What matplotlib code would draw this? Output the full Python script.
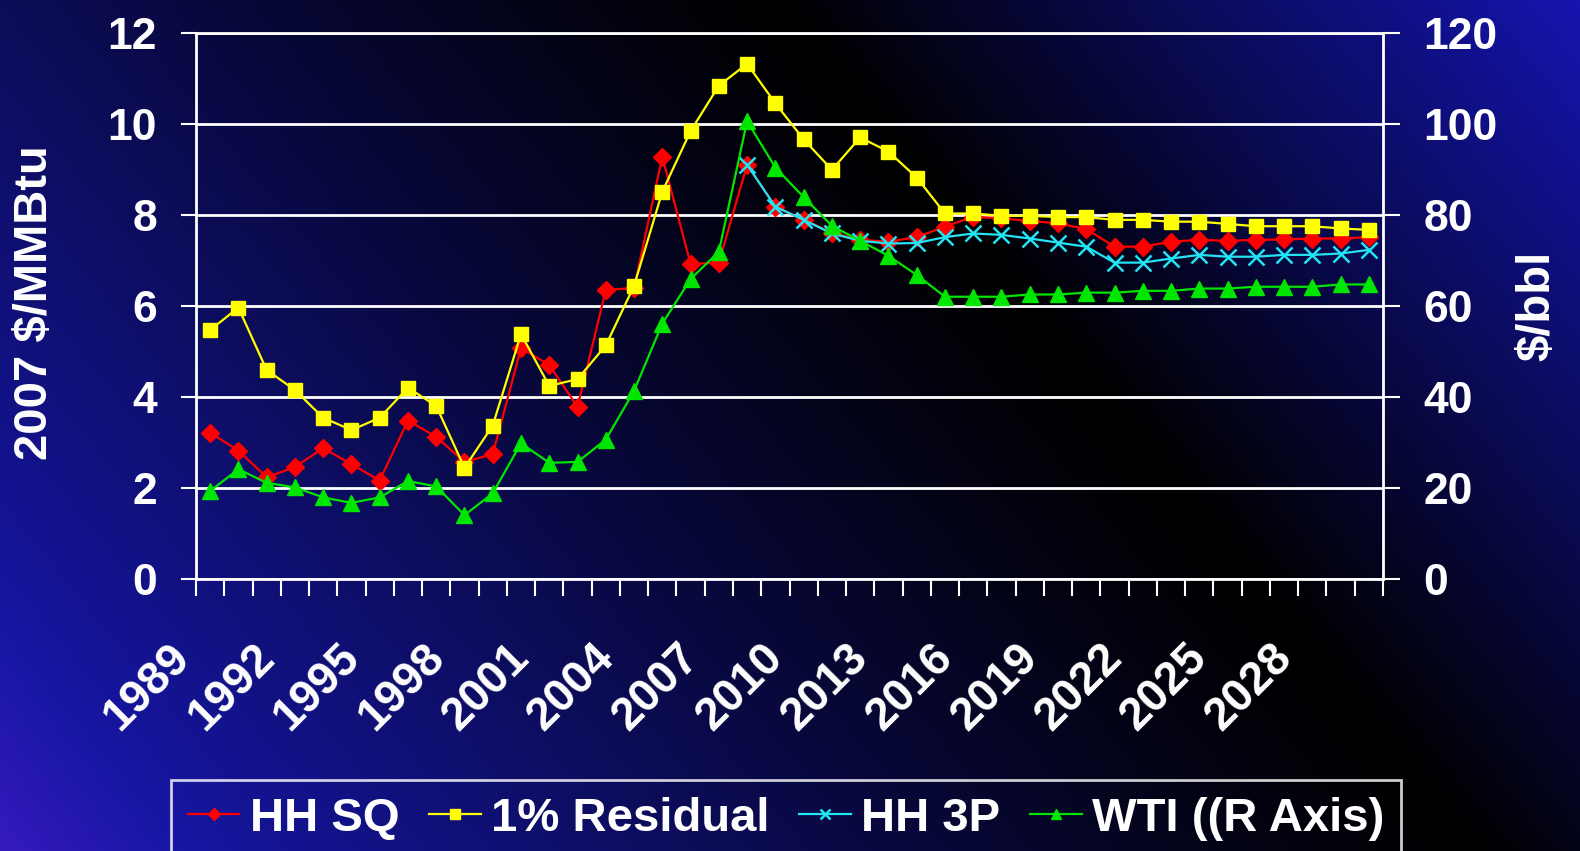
import matplotlib.pyplot as plt
import numpy as np
from matplotlib.transforms import ScaledTranslation

years = list(range(1989, 2031))

# gas prices, 2007 $/MMBtu
hh_sq = [3.22, 2.83, 2.24, 2.47, 2.88, 2.53, 2.17, 3.49, 3.13, 2.58,
         2.75, 5.08, 4.71, 3.79, 6.36, 6.40, 9.29, 6.93, 6.96, 9.11,
         8.19, 7.90, 7.62, 7.46, 7.42, 7.52, 7.75, 7.97, 7.93, 7.88,
         7.82, 7.70, 7.31, 7.31, 7.42, 7.46, 7.44, 7.46, 7.47, 7.49,
         7.49, 7.52]
residual = [5.48, 5.97, 4.60, 4.16, 3.55, 3.28, 3.55, 4.21, 3.81, 2.45,
            3.38, 5.39, 4.25, 4.40, 5.14, 6.45, 8.52, 9.85, 10.85, 11.33,
            10.46, 9.67, 9.00, 9.71, 9.40, 8.83, 8.04, 8.04, 7.99, 7.99,
            7.96, 7.96, 7.90, 7.90, 7.86, 7.86, 7.81, 7.76, 7.76, 7.76,
            7.71, 7.68]
# 3P case only starts in 2008
hh_3p = [np.nan] * 19 + [9.11, 8.19, 7.90, 7.60, 7.44, 7.38, 7.39, 7.52,
                         7.60, 7.57, 7.49, 7.40, 7.31, 6.96, 6.96, 7.05,
                         7.13, 7.09, 7.09, 7.13, 7.13, 7.16, 7.24]
# oil, $/bbl (right axis)
wti = [19.4, 24.2, 21.2, 20.2, 18.0, 16.8, 18.0, 21.6, 20.4, 14.1,
       18.9, 29.9, 25.6, 25.8, 30.7, 41.4, 56.2, 66.0, 72.0, 100.7,
       90.5, 84.0, 77.7, 74.4, 71.1, 66.9, 62.1, 62.1, 62.1, 62.6,
       62.6, 63.0, 63.0, 63.4, 63.4, 63.9, 63.9, 64.3, 64.3, 64.3,
       64.8, 64.8]

plt.rcParams['font.family'] = 'Liberation Sans'
plt.rcParams['font.weight'] = 'bold'

fig = plt.figure(figsize=(15.8, 8.51), dpi=100)

# slide background: blue on both sides of a dark diagonal band
h, w = 851, 1580
yy, xx = np.mgrid[0:h, 0:w]
d = ((xx - 780) * 851 - yy * 700) / 1102.0
left = np.clip(-d / 1150.0, 0, 1) ** 1.2
right = np.clip(d / 640.0, 0, 1)
img = left[..., None] * np.array([26, 26, 192]) / 255.0
img = img + right[..., None] * np.array([22, 22, 182]) / 255.0
img[..., 0] += np.clip((-d - 1000) / 150.0, 0, 1) * 30 / 255.0
bg = fig.add_axes([0, 0, 1, 1])
bg.imshow(np.clip(img, 0, 1), aspect='auto')
bg.axis('off')

ax = fig.add_axes([196 / 1580, 1 - 579.3 / 851, 1187 / 1580, 546 / 851])
ax.set_facecolor('none')
x = np.arange(len(years))

green = '#00e600'
l1, = ax.plot(x, hh_sq, color='red', marker='D', ms=9, lw=1.6, label='HH SQ')
l2, = ax.plot(x, residual, color='yellow', marker='s', ms=10, lw=1.6, label='1% Residual')
l3, = ax.plot(x, hh_3p, color='#22e4f2', marker='x', ms=11, mew=1.8, lw=1.6, label='HH 3P')

ax2 = ax.twinx()
l4, = ax2.plot(x, wti, color=green, marker='^', ms=12, lw=1.6, label='WTI ((R Axis)')

ax.set_xlim(-0.5, len(years) - 0.5)
ax.set_ylim(0, 12)
ax2.set_ylim(0, 120)
ax.set_yticks(range(0, 13, 2))
ax2.set_yticks(range(0, 121, 20))

ax.yaxis.grid(True, color='white', lw=2)
ax.set_axisbelow(True)

for s in ['left', 'bottom', 'top']:
    ax.spines[s].set_color('white')
    ax.spines[s].set_linewidth(2)
ax.spines['right'].set_visible(False)
for s in ['left', 'bottom', 'top']:
    ax2.spines[s].set_visible(False)
ax2.spines['right'].set_color('white')
ax2.spines['right'].set_linewidth(2)

ax.tick_params(axis='y', direction='out', length=11, width=1.5, color='white',
               labelcolor='white', labelsize=32, pad=17)
ax2.tick_params(axis='y', direction='out', length=12, width=1.5, color='white',
                labelcolor='white', labelsize=32, pad=17)

# tick marks between categories, labels every 3 years
ax.set_xticks(np.arange(-0.5, len(years), 1))
ax.set_xticklabels([])
ax.tick_params(axis='x', direction='out', length=12, width=1.5, color='white')
off = ScaledTranslation(-27 / 100, -72 / 100, fig.dpi_scale_trans)
for i in range(0, len(years), 3):
    ax.text(i, 0, str(years[i]), transform=ax.get_xaxis_transform() + off,
            rotation=45, rotation_mode='anchor', ha='right', va='center',
            color='white', fontsize=33, fontweight='bold')

fig.text(35 / 1580, 1 - 303 / 851, '2007 $/MMBtu', rotation=90, ha='center', va='center',
         color='white', fontsize=34, fontweight='bold')
fig.text(1537 / 1580, 1 - 306 / 851, '$/bbl', rotation=90, ha='center', va='center',
         color='white', fontsize=34, fontweight='bold')

leg = fig.legend([l1, l2, l3, l4], [l.get_label() for l in [l1, l2, l3, l4]],
                 loc='upper left', bbox_to_anchor=(171 / 1580, 1 - 780 / 851),
                 ncol=4, fontsize=34, handlelength=1.1, handletextpad=0.22,
                 columnspacing=0.62, borderpad=0.35, markerscale=0.65,
                 fancybox=False, edgecolor='white', facecolor='none',
                 labelcolor='white', borderaxespad=0)
leg.get_frame().set_linewidth(2)

fig.savefig('out.png', dpi=100)
